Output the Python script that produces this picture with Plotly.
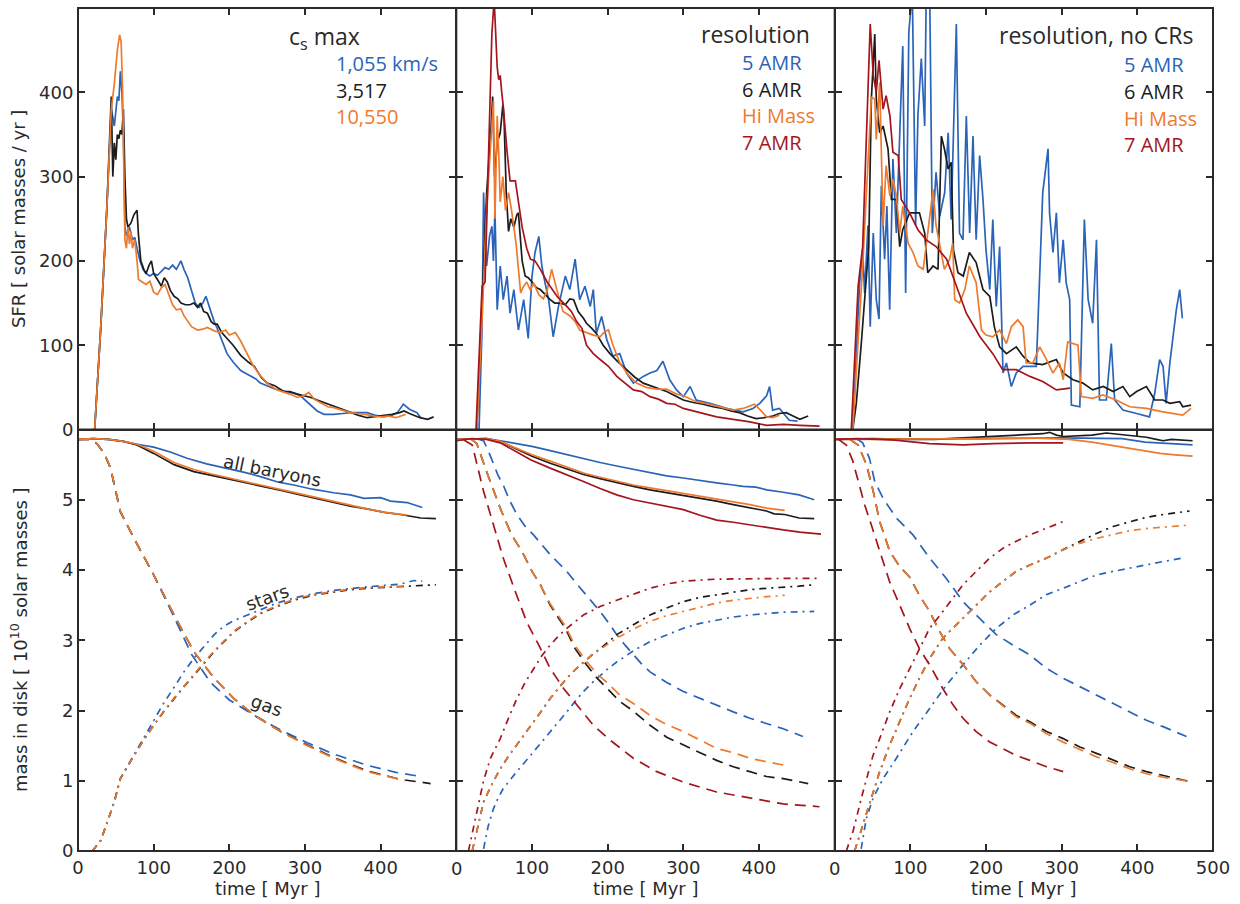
import plotly.graph_objects as go

# ---------------- colours ----------------
BLUE = "#2a64b9"
BLACK = "#1c1c1c"
ORANGE = "#ee7a2d"
RED = "#a4151d"

# ---------------- tick labels ----------------
X_TICKS_1 = [0, 100, 200, 300, 400]
X_TICKS_2 = [100, 200, 300, 400]
X_TICKS_3 = [100, 200, 300, 400, 500]
X_TICK_MARKS = [0, 100, 200, 300, 400, 500]
SFR_TICKS = [0, 100, 200, 300, 400, 500]
MASS_TICKS = [0, 1, 2, 3, 4, 5]

# ---------------- panel 1 : c_s max, SFR (t [Myr], SFR) ----------------
P1_SFR_BLUE = [(22,0),(30,120),(38,260),(44,380),(48,360),(50,375),(52,395),(54,390),(56,425),(58,400),
 (60,350),(62,240),(64,230),(66,235),(68,240),(72,225),(75,228),(78,215),(82,200),(86,190),
 (90,185),(95,182),(100,185),(105,183),(110,188),(115,192),(120,190),(125,195),(130,190),(136,200),
 (140,190),(145,180),(150,165),(155,150),(160,145),(165,150),(169,158),(175,140),(180,128),(184,120),
 (190,105),(197,90),(205,80),(215,70),(225,65),(235,60),(241,55),(250,52),(260,48),(270,46),
 (277,45),(285,43),(294,40),(300,35),(308,28),(316,22),(325,18),(338,18),(350,19),(360,20),
 (370,20),(382,20),(392,17),(404,15),(415,17),(422,20),(430,30),(438,24),(448,20),(453,14)]
P1_SFR_BLACK = [(22,0),(30,120),(38,260),(44,395),(46,300),(48,340),(50,320),(52,350),(54,345),(56,355),
 (58,350),(60,380),(62,300),(64,250),(66,240),(70,245),(74,255),(78,260),(80,230),(83,200),
 (87,190),(90,185),(94,195),(97,200),(100,185),(104,180),(107,175),(110,170),(114,180),(118,175),
 (122,165),(127,158),(132,155),(136,150),(142,148),(148,148),(153,150),(158,145),(162,150),(166,140),
 (171,138),(176,128),(180,125),(184,125),(190,115),(197,108),(205,100),(215,88),(225,80),(233,75),
 (242,62),(250,55),(260,52),(272,45),(280,45),(290,42),(300,40),(308,38),(316,35),(325,32),
 (338,27),(348,24),(360,20),(370,17),(382,14),(392,15),(404,16),(415,18),(425,20),(431,22),
 (438,19),(444,17),(452,14),(462,12),(470,15)]
P1_SFR_ORANGE = [(22,0),(30,120),(38,260),(44,380),(48,410),(52,450),(55,468),(57,460),(59,400),(61,300),
 (62,225),(64,215),(66,240),(68,220),(70,235),(72,215),(75,225),(78,200),(80,178),(85,175),
 (90,172),(95,176),(100,163),(105,160),(110,168),(115,172),(120,160),(125,148),(130,142),(136,143),
 (140,135),(145,128),(150,122),(158,118),(165,119),(171,121),(180,117),(188,115),(195,118),(200,112),
 (208,115),(215,105),(222,92),(232,75),(240,65),(250,55),(263,47),(270,45),(280,42),(290,38),
 (298,40),(305,44),(312,36),(320,32),(330,27),(338,26),(350,23),(360,20),(370,19),(380,18),
 (390,16),(400,15),(410,16),(420,14),(433,18)]

# ---------------- panel 2 : resolution, SFR ----------------
P2_SFR_BLUE = [(30,0),(34,120),(36,281),(38,220),(40,194),(44,230),(47,241),(49,200),(51,261),(54,142),
 (58,194),(62,154),(67,182),(71,138),(76,166),(82,118),(89,154),(95,108),(100,182),(104,210),
 (109,229),(113,194),(117,175),(122,154),(128,110),(135,146),(144,182),(150,166),(157,202),(163,154),
 (170,170),(177,146),(181,166),(185,114),(192,134),(199,106),(207,87),(216,90),(225,67),(234,55),
 (247,63),(256,67),(265,70),(273,81),(282,59),(291,47),(300,39),(309,51),(317,35),(335,31),
 (357,25),(379,21),(392,25),(401,31),(410,40),(414,51),(418,23),(427,25),(440,11),(451,10)]
P2_SFR_BLACK = [(27,0),(34,150),(40,280),(46,360),(48,395),(50.5,300),(54,340),(58,352),(61.5,385),(63,370),
 (66,280),(69,235),(72,250),(76,240),(80,255),(82,257),(87,200),(91,182),(95,180),(100,175),
 (106,168),(111,166),(117,160),(124,154),(130,150),(137,150),(144,148),(150,155),(155,154),(161,140),
 (168,132),(172,126),(179,120),(185,114),(194,100),(203,90),(214,80),(225,71),(236,62),(247,55),
 (262,50),(278,45),(289,40),(300,35),(313,32),(326,30),(339,27),(352,25),(363,22),(374,20),
 (385,16),(396,13),(407,14),(418,16),(427,19),(436,20),(445,16),(454,12),(465,16)]
P2_SFR_ORANGE = [(27,0),(34,130),(40,260),(47,360),(49,390),(51,250),(54,372),(56,330),(58,270),(61.5,300),
 (65,260),(69,281),(73,260),(79,220),(82,190),(85,162),(89,170),(93,175),(98,165),(102,174),
 (109,160),(115,155),(120,165),(126,190),(133,165),(141,140),(150,135),(157,128),(163,118),(172,115),
 (181,112),(190,110),(196,116),(201,118),(207,100),(216,79),(227,65),(238,55),(251,50),(265,48),
 (278,48),(291,42),(300,40),(317,33),(335,30),(352,26),(366,23),(379,25),(394,30),(403,22),
 (410,15),(418,14),(427,17)]
P2_SFR_RED = [(26,0),(31,120),(34,170),(38,175),(43,330),(47,470),(50,510),(54,430),(56,415),(58,420),
 (60,400),(62,384),(67,330),(71,295),(78,295),(82,270),(87,240),(93,215),(98,202),(104,200),
 (111,190),(120,175),(133,158),(146,146),(152,140),(159,128),(166,120),(172,100),(181,90),(190,83),
 (201,75),(212,63),(223,55),(234,47),(245,45),(256,39),(267,36),(278,31),(289,30),(300,25),
 (322,20),(344,15),(366,12),(388,9),(410,5),(432,6),(454,5),(480,4)]

# ---------------- panel 3 : resolution, no CRs, SFR ----------------
P3_SFR_BLUE = [(24,0),(33,174),(37,213),(39.6,162),(44,242),(47,122),(51,233),(55,154),(58.6,131),(61.7,289),
 (66,202),(69,265),(72.7,142),(77,321),(81.5,233),(86,352),(90,455),(93.8,162),(98,471),(102.6,520),
 (107,242),(110,372),(114.5,440),(119,360),(121,520),(125.5,530),(129,233),(134,305),(138.8,253),(145.4,281),
 (150,352),(154,249),(158.6,412),(160.8,481),(165,233),(169.6,225),(174,372),(178.4,233),(182.8,348),(187,225),
 (191.6,325),(196,273),(200,213),(205,166),(209,249),(213.6,146),(218,217),(222.5,67),(227,79),(233.5,51),
 (240,67),(249,75),(258,75),(266.5,75),(275,281),(282,333),(284,257),(288.5,210),(293,257),(297,174),
 (302,225),(306,174),(310.6,154),(312.8,29),(324,27),(330,249),(335,154),(341,126),(346,225),(350,35),
 (359,35),(365.6,102),(370,35),(381,23),(399,19),(416,15),(423,43),(429.5,83),(434,75),(438,31),
 (443,79),(451.5,142),(456,166),(459.5,132)]
P3_SFR_BLACK = [(24,0),(28.6,31),(35,100),(42,180),(45,217),(48.5,392),(53,469),(55,392),(59.5,352),(64,360),
 (70.5,333),(75,273),(81.5,273),(86,217),(90,237),(99,257),(112,257),(119,233),(123,186),(130,194),
 (136.6,190),(141,348),(145,333),(150,309),(154,317),(157,213),(163,186),(170,182),(178,210),(187,198),
 (196,166),(205,158),(211,122),(218,98),(227,90),(240,98),(249,87),(258,79),(275,77),(293,83),
 (302,67),(315,59),(328,55),(341,47),(355,51),(368,45),(381,51),(390,39),(399,45),(412,51),
 (423,35),(434,35),(443,31),(456,33),(460,27),(471,29)]
P3_SFR_ORANGE = [(24,0),(37,194),(45,333),(48.5,394),(53,392),(55,344),(59.5,412),(64,242),(68,313),(73,277),
 (77,297),(81.5,277),(86,233),(90,265),(97,221),(103.5,210),(110,194),(117,190),(123,233),(130,285),
 (134,242),(139,217),(145,190),(152,202),(156,221),(158.6,154),(165,150),(172,166),(178,194),(187,174),
 (194,118),(200,112),(209,110),(218,118),(227,102),(233.5,122),(242,130),(249,122),(253,79),(262,79),
 (271,98),(280,83),(288.5,67),(297,79),(302,59),(308,104),(321.6,100),(326,39),(341,37),(354.6,41),
 (372,35),(390,27),(412,25),(434,21),(447,19),(460,17),(471,25)]
P3_SFR_RED = [(22,0),(31,170),(37,217),(47,481),(51,420),(55,400),(58.6,438),(64,380),(68,396),(73,372),
 (77,329),(84,325),(88,273),(99,257),(110,237),(121,225),(134,217),(148,202),(161,170),(174,138),
 (192,110),(209,90),(222,71),(240,71),(258,63),(275,57),(293,47),(311,49)]

# ---------------- panel 1 : mass in disk [1e10 Msun] ----------------
P1_BARY_BLUE = [(0,5.86),(20,5.87),(40,5.86),(60,5.83),(78,5.79),(100,5.75),(122,5.68),(144,5.59),(170,5.51),(197,5.45),
 (220,5.39),(241,5.33),(265,5.25),(285,5.21),(310,5.15),(338,5.10),(360,5.07),(378,5.02),(400,5.03),(413,4.98),(435,4.96),(455,4.89)]
P1_BARY_BLACK = [(0,5.86),(20,5.87),(40,5.86),(60,5.83),(78,5.78),(100,5.66),(127,5.50),(153,5.40),(175,5.35),(197,5.30),
 (220,5.25),(241,5.20),(270,5.13),(294,5.07),(320,5.01),(338,4.96),(360,4.91),(382,4.87),(405,4.82),(426,4.79),(445,4.76),(453,4.74),(473,4.73)]
P1_BARY_ORANGE = [(0,5.86),(20,5.87),(40,5.86),(60,5.83),(78,5.79),(100,5.69),(127,5.53),(153,5.43),(175,5.37),(197,5.32),
 (220,5.26),(241,5.21),(270,5.14),(294,5.08),(320,5.02),(338,4.97),(360,4.92),(382,4.87),(405,4.82),(435,4.78)]
P1_GAS_BLUE = [(0,5.86),(15,5.86),(25,5.80),(35,5.65),(43,5.45),(56,4.83),(74,4.45),(100,3.93),(127,3.33),(150,2.80),
 (175,2.40),(200,2.15),(233,1.93),(268,1.72),(303,1.54),(338,1.38),(382,1.22),(420,1.12),(453,1.06)]
P1_GAS_BLACK = [(0,5.86),(15,5.86),(25,5.80),(35,5.65),(43,5.45),(56,4.83),(74,4.45),(100,3.93),(127,3.36),(153,2.84),
 (180,2.46),(206,2.17),(233,1.93),(268,1.70),(303,1.51),(338,1.33),(382,1.14),(426,1.02),(466,0.96)]
P1_GAS_ORANGE = [(0,5.86),(15,5.86),(25,5.80),(35,5.65),(43,5.45),(56,4.83),(74,4.45),(100,3.93),(127,3.36),(153,2.84),
 (180,2.46),(206,2.17),(233,1.93),(268,1.70),(303,1.50),(338,1.32),(382,1.13),(433,1.00)]
P1_STAR_BLUE = [(19,0),(30,0.15),(40,0.45),(48,0.70),(56,1.03),(65,1.20),(74,1.38),(87,1.62),(100,1.85),(113,2.10),
 (127,2.33),(140,2.55),(153,2.74),(167,2.92),(180,3.08),(193,3.20),(206,3.28),(224,3.36),(241,3.43),(263,3.53),
 (285,3.60),(310,3.66),(338,3.71),(360,3.74),(382,3.76),(405,3.78),(426,3.80),(444,3.85),(455,3.84)]
P1_STAR_BLACK = [(19,0),(30,0.15),(40,0.45),(48,0.70),(56,1.03),(65,1.20),(74,1.36),(87,1.58),(100,1.79),(113,1.98),
 (127,2.17),(140,2.34),(153,2.50),(167,2.68),(180,2.84),(193,2.98),(206,3.12),(224,3.26),(241,3.38),(263,3.48),
 (285,3.57),(310,3.64),(338,3.69),(360,3.72),(382,3.74),(405,3.75),(426,3.76),(450,3.77),(473,3.79)]
P1_STAR_ORANGE = [(19,0),(30,0.15),(40,0.45),(48,0.70),(56,1.03),(65,1.20),(74,1.36),(87,1.58),(100,1.79),(113,1.99),
 (127,2.18),(140,2.35),(153,2.51),(167,2.69),(180,2.85),(193,2.99),(206,3.13),(224,3.27),(241,3.39),(263,3.49),
 (285,3.58),(310,3.65),(338,3.70),(360,3.73),(382,3.75),(405,3.76),(435,3.77)]

# ---------------- panel 2 : mass in disk ----------------
P2_BARY_BLUE = [(0,5.86),(20,5.87),(40,5.87),(58,5.84),(80,5.80),(100,5.76),(124,5.70),(146,5.64),(168,5.59),(190,5.53),
 (212,5.48),(234,5.43),(256,5.38),(278,5.34),(300,5.31),(322,5.27),(344,5.24),(366,5.21),(379,5.19),(396,5.18),
 (410,5.14),(430,5.11),(453,5.07),(473,5.00)]
P2_BARY_BLACK = [(0,5.86),(20,5.87),(40,5.87),(58,5.83),(80,5.72),(100,5.62),(124,5.52),(146,5.44),(168,5.36),(190,5.30),
 (212,5.24),(234,5.19),(256,5.14),(278,5.10),(300,5.07),(322,5.02),(344,4.98),(366,4.93),(388,4.88),(410,4.84),
 (420,4.80),(434,4.79),(453,4.74),(473,4.73)]
P2_BARY_ORANGE = [(0,5.86),(20,5.87),(40,5.87),(58,5.83),(80,5.73),(100,5.64),(124,5.55),(146,5.46),(168,5.38),(190,5.32),
 (212,5.26),(234,5.21),(256,5.17),(278,5.13),(300,5.10),(322,5.05),(344,5.02),(366,4.98),(388,4.93),(410,4.88),(434,4.85)]
P2_BARY_RED = [(0,5.84),(20,5.87),(40,5.86),(58,5.81),(80,5.68),(98,5.57),(124,5.45),(146,5.36),(168,5.26),(190,5.16),
 (212,5.07),(234,5.00),(256,4.95),(278,4.91),(300,4.86),(322,4.78),(344,4.71),(366,4.68),(388,4.64),(410,4.60),
 (432,4.57),(454,4.54),(482,4.51)]
P2_GAS_BLUE = [(30,5.86),(36,5.84),(44,5.65),(49,5.50),(55,5.35),(62,5.21),(70,5.00),(80,4.79),(91,4.62),(102,4.50),
 (113,4.36),(124,4.22),(135,4.10),(146,3.98),(157,3.83),(168,3.69),(179,3.55),(190,3.41),(201,3.25),(212,3.08),
 (223,2.93),(234,2.79),(245,2.66),(256,2.55),(278,2.40),(300,2.27),(322,2.17),(344,2.08),(366,1.98),(388,1.89),
 (410,1.81),(432,1.74),(458,1.63)]
P2_GAS_BLACK = [(20,5.86),(27,5.80),(40,5.40),(58,4.88),(73,4.50),(87,4.26),(100,3.98),(111,3.79),(124,3.50),(144,3.17),
 (157,2.88),(172,2.65),(186,2.46),(199,2.32),(216,2.13),(234,1.99),(256,1.79),(278,1.62),(300,1.51),(322,1.39),
 (344,1.29),(366,1.20),(388,1.13),(410,1.06),(432,1.03),(465,0.96)]
P2_GAS_ORANGE = [(20,5.86),(27,5.80),(40,5.40),(58,4.88),(73,4.50),(87,4.26),(100,3.98),(111,3.79),(124,3.52),(144,3.20),
 (157,2.92),(172,2.70),(186,2.52),(199,2.40),(216,2.22),(234,2.10),(256,1.93),(278,1.80),(300,1.70),(322,1.58),
 (344,1.46),(366,1.40),(388,1.32),(410,1.27),(434,1.22)]
P2_GAS_RED = [(10,5.85),(21,5.78),(36,5.12),(49,4.64),(62,4.17),(78,3.69),(93,3.26),(109,2.93),(124,2.60),(142,2.31),
 (159,2.08),(181,1.79),(203,1.58),(234,1.32),(265,1.13),(300,0.98),(344,0.84),(388,0.75),(432,0.67),(480,0.63)]
P2_STAR_BLUE = [(36,0.03),(42,0.35),(49,0.60),(55,0.75),(62,0.89),(70,1.00),(80,1.13),(91,1.27),(102,1.41),(113,1.56),
 (124,1.70),(135,1.84),(146,1.98),(157,2.13),(168,2.27),(179,2.39),(190,2.50),(201,2.60),(212,2.69),(234,2.85),
 (256,2.98),(278,3.08),(300,3.17),(322,3.24),(344,3.29),(366,3.33),(388,3.36),(410,3.38),(432,3.40),(473,3.41)]
P2_STAR_BLACK = [(21,0),(28,0.35),(36,0.70),(47,0.95),(58,1.17),(69,1.35),(80,1.51),(91,1.68),(102,1.84),(113,2.00),
 (124,2.17),(135,2.32),(146,2.46),(157,2.58),(168,2.69),(179,2.79),(190,2.88),(201,2.98),(212,3.08),(234,3.22),
 (256,3.36),(278,3.46),(300,3.55),(322,3.61),(344,3.65),(366,3.69),(388,3.72),(410,3.74),(432,3.75),(453,3.77),(473,3.79)]
P2_STAR_ORANGE = [(21,0),(28,0.35),(36,0.70),(47,0.95),(58,1.17),(69,1.35),(80,1.51),(91,1.68),(102,1.84),(113,2.00),
 (124,2.17),(135,2.32),(146,2.46),(157,2.58),(168,2.69),(179,2.79),(190,2.87),(201,2.95),(212,3.03),(234,3.16),
 (256,3.27),(278,3.35),(300,3.41),(322,3.48),(344,3.53),(366,3.57),(388,3.60),(410,3.62),(434,3.64)]
P2_STAR_RED = [(16,0),(22,0.30),(27,0.60),(36,1.00),(45,1.32),(58,1.60),(70,1.92),(80,2.17),(91,2.40),(102,2.60),
 (113,2.78),(124,2.93),(135,3.06),(146,3.17),(157,3.27),(168,3.36),(179,3.42),(190,3.48),(212,3.57),(234,3.66),
 (256,3.74),(278,3.80),(300,3.84),(344,3.87),(388,3.88),(432,3.88),(478,3.88)]

# ---------------- panel 3 : mass in disk ----------------
P3_BARY_BLUE = [(0,5.86),(100,5.86),(200,5.87),(300,5.88),(350,5.88),(380,5.87),(410,5.82),(440,5.80),(473,5.78)]
P3_BARY_BLACK = [(0,5.86),(50,5.87),(100,5.86),(132,5.86),(170,5.88),(200,5.90),(230,5.91),(258,5.93),(275,5.94),(284,5.96),
 (293,5.92),(302,5.90),(320,5.91),(340,5.92),(359,5.95),(375,5.93),(390,5.92),(412,5.89),(425,5.86),(434,5.84),
 (445,5.86),(456,5.85),(473,5.84)]
P3_BARY_ORANGE = [(0,5.86),(100,5.86),(200,5.87),(260,5.88),(310,5.86),(340,5.82),(370,5.77),(400,5.71),(430,5.66),(450,5.64),(473,5.62)]
P3_BARY_RED = [(0,5.86),(30,5.87),(80,5.85),(125,5.80),(170,5.78),(210,5.80),(260,5.81),(302,5.81)]
P3_GAS_BLUE = [(30,5.86),(37,5.81),(46,5.59),(53,5.26),(64,5.02),(81.5,4.74),(103.5,4.50),(125.5,4.17),(147.6,3.88),(169.6,3.55),
 (191.6,3.31),(213.6,3.08),(235.7,2.93),(258,2.79),(280,2.60),(302,2.46),(324,2.34),(346,2.22),(368,2.10),(390,1.98),
 (412,1.86),(434,1.77),(465,1.63)]
P3_GAS_BLACK = [(20,5.86),(31,5.78),(42,5.50),(51,5.12),(59.5,4.69),(73,4.26),(86,4.05),(99,3.90),(112,3.64),(125.5,3.41),
 (139,3.12),(152,2.88),(170,2.65),(187,2.41),(205,2.22),(222.5,2.08),(240,1.93),(258,1.84),(280,1.70),(302,1.60),
 (324,1.48),(346,1.39),(368,1.30),(390,1.20),(412,1.13),(434,1.08),(469,0.99)]
P3_GAS_ORANGE = [(20,5.86),(31,5.78),(42,5.50),(51,5.12),(59.5,4.69),(73,4.26),(86,4.05),(99,3.90),(112,3.64),(125.5,3.41),
 (139,3.12),(152,2.88),(170,2.65),(187,2.41),(205,2.22),(222.5,2.06),(240,1.91),(258,1.82),(280,1.67),(302,1.55),
 (324,1.44),(346,1.34),(368,1.26),(390,1.17),(412,1.10),(434,1.05),(469,0.99)]
P3_GAS_RED = [(5,5.86),(15.4,5.78),(24,5.55),(39.6,4.93),(48.5,4.64),(59.5,4.26),(72.7,3.83),(86,3.50),(99,3.17),(112,2.88),
 (125.5,2.65),(143,2.31),(156.4,2.08),(169.6,1.89),(187,1.70),(205,1.55),(222.5,1.46),(240,1.36),(258,1.29),(280,1.20),(302,1.13)]
P3_STAR_BLUE = [(35,0.03),(41.8,0.46),(50.7,0.75),(64,1.03),(81.5,1.32),(103.5,1.70),(125.5,2.03),(147.6,2.36),(169.6,2.65),(191.6,2.93),
 (213.6,3.17),(235.7,3.36),(258,3.50),(280,3.65),(302,3.74),(324,3.84),(346,3.93),(368,3.98),(390,4.03),(412,4.07),
 (434,4.12),(460,4.17)]
P3_STAR_BLACK = [(26.4,0),(37.4,0.37),(50.7,0.84),(59.5,1.13),(72.7,1.51),(86,1.84),(99,2.17),(112,2.46),(125.5,2.74),(143,3.03),
 (156.4,3.17),(169.6,3.31),(187,3.50),(205,3.69),(222.5,3.84),(240,3.98),(258,4.07),(280,4.17),(302,4.29),(324,4.41),
 (346,4.52),(368,4.62),(390,4.69),(412,4.75),(434,4.79),(469,4.84)]
P3_STAR_ORANGE = [(26.4,0),(37.4,0.37),(50.7,0.84),(59.5,1.13),(72.7,1.51),(86,1.84),(99,2.17),(112,2.46),(125.5,2.74),(143,3.03),
 (156.4,3.17),(169.6,3.31),(187,3.50),(205,3.69),(222.5,3.84),(240,3.98),(258,4.07),(280,4.17),(302,4.29),(324,4.38),
 (346,4.45),(368,4.51),(390,4.56),(412,4.59),(434,4.61),(469,4.64)]
P3_STAR_RED = [(15.4,0),(24,0.27),(37.4,0.84),(50.7,1.36),(59.5,1.60),(72.7,1.98),(86,2.31),(99,2.60),(112,2.88),(125.5,3.17),
 (143,3.41),(156.4,3.60),(169.6,3.79),(187,3.98),(205,4.17),(222.5,4.31),(240,4.41),(258,4.50),(280,4.60),(302,4.69)]

# ---------------- layout constants ----------------
W, H = 1240, 904
ML, MR, MT, MB = 78, 27, 8, 53
PW, PH = W - ML - MR, H - MT - MB
AX = "#2a2a2a"
TICK_FONT = dict(family="DejaVu Sans", size=18, color=AX)
LEG_FONT = "Open Sans"

def pxx(px):
    return (px - ML) / PW

def pxy(py):
    return (H - MB - py) / PH

SOLID = "solid"
GAS_DASH = "11px,7px"
STAR_DASH = "7px,5px,2px,5px"

fig = go.Figure()

def add(series, color, dash, xa, ya):
    fig.add_trace(go.Scatter(
        x=[p[0] for p in series], y=[p[1] for p in series],
        mode="lines", line=dict(color=color, width=1.7, dash=dash),
        xaxis=xa, yaxis=ya, hoverinfo="skip", showlegend=False))

# top row SFR
for s, c in [(P1_SFR_BLUE, BLUE), (P1_SFR_BLACK, BLACK), (P1_SFR_ORANGE, ORANGE)]:
    add(s, c, SOLID, "x", "y")
for s, c in [(P2_SFR_BLUE, BLUE), (P2_SFR_BLACK, BLACK), (P2_SFR_ORANGE, ORANGE), (P2_SFR_RED, RED)]:
    add(s, c, SOLID, "x2", "y2")
for s, c in [(P3_SFR_BLUE, BLUE), (P3_SFR_BLACK, BLACK), (P3_SFR_ORANGE, ORANGE), (P3_SFR_RED, RED)]:
    add(s, c, SOLID, "x3", "y3")

# bottom row masses
groups = [
    ("x4", "y4", [(P1_BARY_BLUE, P1_GAS_BLUE, P1_STAR_BLUE, BLUE),
                  (P1_BARY_BLACK, P1_GAS_BLACK, P1_STAR_BLACK, BLACK),
                  (P1_BARY_ORANGE, P1_GAS_ORANGE, P1_STAR_ORANGE, ORANGE)]),
    ("x5", "y5", [(P2_BARY_BLUE, P2_GAS_BLUE, P2_STAR_BLUE, BLUE),
                  (P2_BARY_BLACK, P2_GAS_BLACK, P2_STAR_BLACK, BLACK),
                  (P2_BARY_ORANGE, P2_GAS_ORANGE, P2_STAR_ORANGE, ORANGE),
                  (P2_BARY_RED, P2_GAS_RED, P2_STAR_RED, RED)]),
    ("x6", "y6", [(P3_BARY_BLUE, P3_GAS_BLUE, P3_STAR_BLUE, BLUE),
                  (P3_BARY_BLACK, P3_GAS_BLACK, P3_STAR_BLACK, BLACK),
                  (P3_BARY_ORANGE, P3_GAS_ORANGE, P3_STAR_ORANGE, ORANGE),
                  (P3_BARY_RED, P3_GAS_RED, P3_STAR_RED, RED)]),
]
for xa, ya, sets in groups:
    for bary, gas, star, c in sets:
        add(bary, c, SOLID, xa, ya)
        add(gas, c, GAS_DASH, xa, ya)
        add(star, c, STAR_DASH, xa, ya)

axis_common = dict(showline=True, linecolor=AX, linewidth=1, mirror="ticks",
                   ticks="inside", ticklen=7, tickwidth=1.5, tickcolor=AX,
                   showgrid=False, zeroline=False, tickfont=TICK_FONT, fixedrange=True)

layout = dict(width=W, height=H, margin=dict(l=ML, r=MR, t=MT, b=MB),
              paper_bgcolor="white", plot_bgcolor="white", showlegend=False,
              hovermode=False)
x_label_sets = [X_TICKS_1, X_TICKS_2, X_TICKS_3]
for i in range(6):
    col = i % 3
    row = i // 3
    xname = "xaxis" if i == 0 else f"xaxis{i+1}"
    yname = "yaxis" if i == 0 else f"yaxis{i+1}"
    labels = x_label_sets[col]
    layout[xname] = dict(axis_common, domain=[col / 3, (col + 1) / 3], range=[0, 500],
                         tickvals=X_TICK_MARKS,
                         ticktext=[str(v) if v in labels else "" for v in X_TICK_MARKS],
                         showticklabels=(row == 1),
                         anchor="y" if i == 0 else f"y{i+1}")
    if row == 0:
        layout[yname] = dict(axis_common, domain=[0.5, 1.0], range=[0, 500], tickvals=SFR_TICKS,
                             showticklabels=(col == 0), anchor="x" if i == 0 else f"x{i+1}")
    else:
        layout[yname] = dict(axis_common, domain=[0.0, 0.5], range=[0, 6], tickvals=MASS_TICKS,
                             showticklabels=(col == 0), anchor=f"x{i+1}")

# frame lines (single 2px strokes, shared between adjacent panels)
shapes = []
for fx in (0, 1 / 3, 2 / 3, 1):
    shapes.append(dict(type="line", xref="paper", yref="paper", x0=fx, x1=fx, y0=0, y1=1,
                       line=dict(color=AX, width=2), layer="above"))
for fy in (0, 0.5, 1):
    shapes.append(dict(type="line", xref="paper", yref="paper", x0=0, x1=1, y0=fy, y1=fy,
                       line=dict(color=AX, width=2), layer="above"))
layout["shapes"] = shapes
fig.update_layout(**layout)

ann = []
def text(px, py, s, size, color=AX, xanchor="left", family=LEG_FONT, angle=0):
    ann.append(dict(x=pxx(px), y=pxy(py), xref="paper", yref="paper", text=s, showarrow=False,
                    xanchor=xanchor, yanchor="middle", textangle=angle,
                    font=dict(family=family, size=size, color=color)))

# axis titles
text(19, 219, "SFR [ solar masses / yr ]", 18, xanchor="center", family="DejaVu Sans", angle=-90)
text(19, 640, "mass in disk [ 10<sup>10</sup> solar masses ]", 18, xanchor="center", family="DejaVu Sans", angle=-90)
for cx in (267, 645, 1023):
    text(cx, 888, "time [ Myr ]", 18, xanchor="center", family="DejaVu Sans")
# x tick label "0" at the shared panel edges
for cx in (456, 834):
    text(cx, 869, "0", 18, xanchor="center", family="DejaVu Sans")

# panel legends
text(362, 37, "c<sub>s</sub> max", 23, xanchor="right")
for (s, c), py in zip([("1,055 km/s", BLUE), ("3,517", BLACK), ("10,550", ORANGE)], (63, 90, 116)):
    text(334, py, s, 20, color=c)
text(812, 34, "resolution", 23, xanchor="right")
for (s, c), py in zip([("5 AMR", BLUE), ("6 AMR", BLACK), ("Hi Mass", ORANGE), ("7 AMR", RED)], (62, 89, 115, 142)):
    text(740, py, s, 20, color=c)
text(1195, 35, "resolution, no CRs", 23, xanchor="right")
for (s, c), py in zip([("5 AMR", BLUE), ("6 AMR", BLACK), ("Hi Mass", ORANGE), ("7 AMR", RED)], (64, 91, 118, 144)):
    text(1122, py, s, 20, color=c)

# curve labels
text(272, 470, "all baryons", 18, xanchor="center", family="DejaVu Sans", angle=11.5)
text(267, 597, "stars", 18, xanchor="center", family="DejaVu Sans", angle=-20)
text(267, 705, "gas", 18, xanchor="center", family="DejaVu Sans", angle=20)

fig.update_layout(annotations=ann)
fig.write_html("out.html")
